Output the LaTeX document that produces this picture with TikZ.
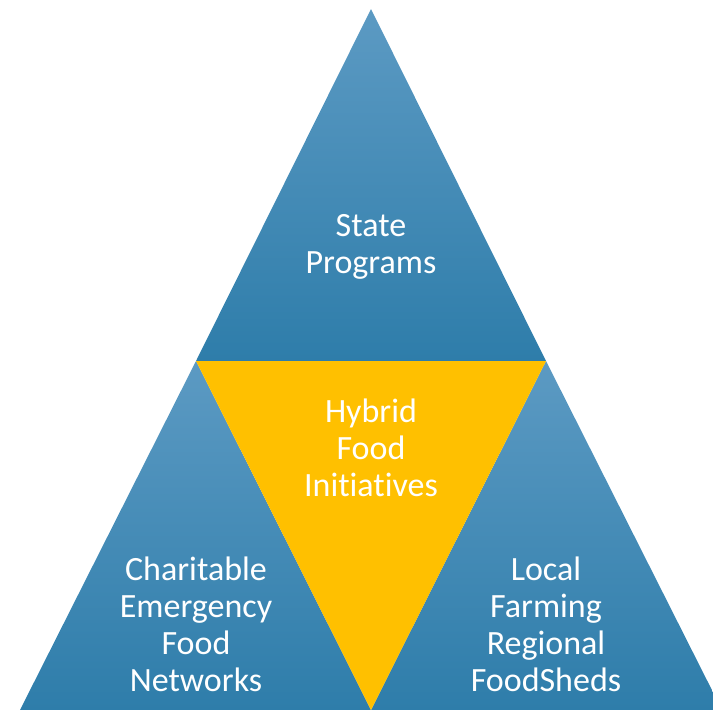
\documentclass[tikz,border=0pt]{standalone}
\usepackage{fontspec}
\setmainfont[Ligatures=NoCommon]{Carlito}
\usetikzlibrary{positioning}

\definecolor{blueTop}{RGB}{92,154,195}
\definecolor{blueBot}{RGB}{46,125,170}
\definecolor{hybridYellow}{RGB}{255,192,0}

\begin{document}
\begin{tikzpicture}[
  x=1pt, y=-1pt,
  tri/.style={top color=blueTop, bottom color=blueBot},
  label/.style={text=white, align=center, font=\fontsize{34}{37}\selectfont}
]
\useasboundingbox (0,0) rectangle (713,710);
\clip (0,0) rectangle (713,710);

% the four triangles
\shade[tri] (371,9) -- (546,361) -- (196,361) -- cycle;
\shade[tri] (196,361) -- (371,710) -- (20,710) -- cycle;
\shade[tri] (546,361) -- (722,710) -- (371,710) -- cycle;
\fill[hybridYellow] (196,361) -- (546,361) -- (371,710) -- cycle;

\node[label] (state) at (371,247) {State\\Programs};
\node[label] (hybrid) at (371,448) {Hybrid\\Food\\Initiatives};
\node[label] (charity) at (196,624) {Charitable\\Emergency\\Food\\Networks};
\node[label] (local) at (546,624) {Local\\Farming\\Regional\\FoodSheds};
\end{tikzpicture}
\end{document}
